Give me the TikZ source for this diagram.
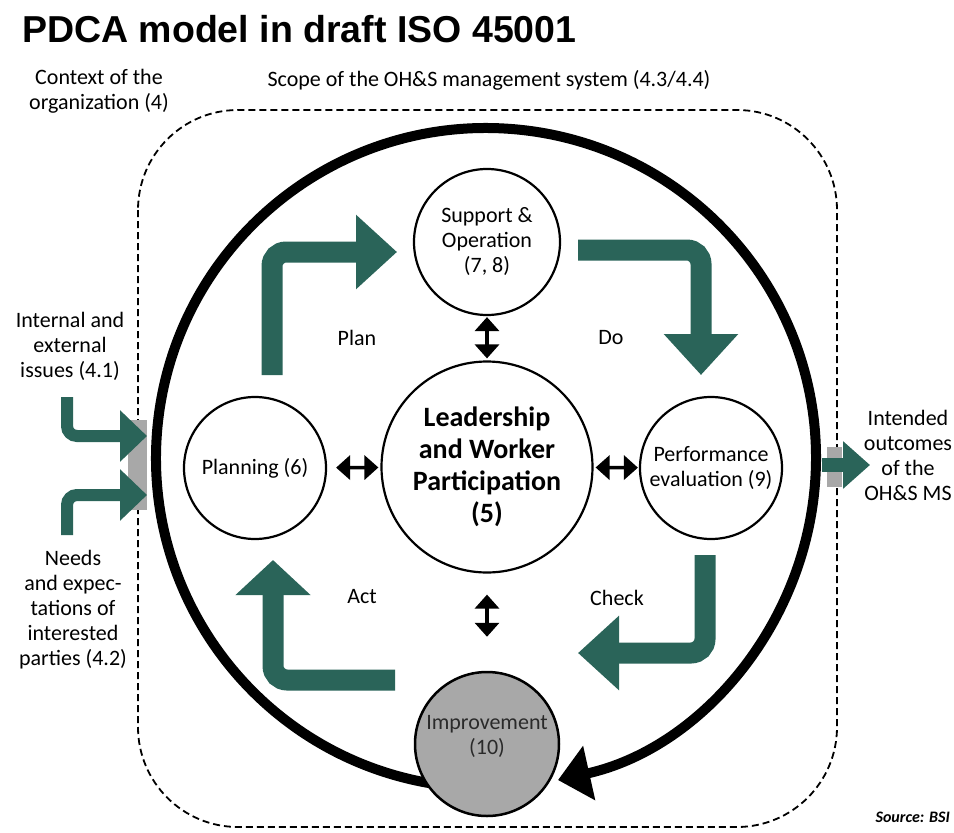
\documentclass[tikz,border=0pt]{standalone}
\usepackage{fontspec}
\setmainfont{Carlito}
\newfontfamily\titlefont{Liberation Sans}
\usetikzlibrary{arrows.meta}
\definecolor{tealc}{HTML}{2A6459}
\definecolor{grayc}{HTML}{A8A8A8}
\definecolor{imptext}{HTML}{2A2A2A}
\begin{document}
\begin{tikzpicture}[x=1pt,y=-1pt,
  lbl/.style={font=\fontsize{22}{25}\selectfont, align=center, inner sep=0pt},
  circ/.style={circle, draw=black, line width=2.2pt, fill=white, inner sep=0pt, align=center, font=\fontsize{22}{25}\selectfont},
  bigarrow/.style={draw=tealc, line width=21pt, rounded corners=14pt, -{Triangle[length=41pt,width=72pt]}},
  smallarrow/.style={draw=tealc, line width=12pt, rounded corners=10pt, -{Triangle[length=27pt,width=50pt]}},
  dbl/.style={line width=3.5pt, {Triangle[length=14pt,width=24pt]}-{Triangle[length=14pt,width=24pt]}},
  cyclearrow/.style={line width=10pt, -{Triangle[length=32pt,width=54pt]}}
]
\useasboundingbox (0,0) rectangle (954,833);

% title
\node[anchor=base west, inner sep=0pt, font=\titlefont\bfseries\fontsize{37.5}{40}\selectfont] (title) at (22,42) {PDCA model in draft ISO 45001};

% scope dashed boundary
\draw[line width=1.8pt, dash pattern=on 7pt off 4pt, rounded corners=100pt] (138,110) rectangle (837,827);

% grey interface bars
\fill[grayc] (128,420) rectangle (147,510);
\fill[grayc] (827,447) rectangle (842,487);

% input / output arrows
\coordinate (in1s) at (67,397);
\coordinate (in1e) at (147,436);
\coordinate (in2s) at (67,535);
\coordinate (in2e) at (147,495);
\draw[smallarrow] (in1s) |- (in1e);
\draw[smallarrow] (in2s) |- (in2e);
\coordinate (outs) at (822,465);
\coordinate (oute) at (870,465);
\draw[draw=tealc, line width=14pt, -{Triangle[length=27pt,width=46pt]}] (outs) -- (oute);

% PDCA teal arrows
\coordinate (plans) at (272,375);
\coordinate (plane) at (397,252);
\draw[bigarrow] (plans) |- (plane);
\coordinate (dos) at (578,250);
\coordinate (doe) at (701,375);
\draw[bigarrow] (dos) -| (doe);
\coordinate (chks) at (705,555);
\coordinate (chke) at (578,653);
\draw[bigarrow] (chks) |- (chke);
\coordinate (acts) at (395,680);
\coordinate (acte) at (273,560);
\draw[bigarrow, -{Triangle[length=35pt,width=73pt]}] (acts) -| (acte);

% big cycle arrow
\coordinate (cc) at (486,458);
\draw[cyclearrow] (cc) ++(95:330) arc[start angle=95, end angle=437.4, radius=330];

% circles
\node[circ, minimum size=146pt] (sup) at (487,242) {Support \&\\Operation\\(7, 8)};
\node[circ, minimum size=211pt, font=\bfseries\fontsize{28}{32}\selectfont] (lead) at (487,467) {Leadership\\and Worker\\Participation\\(5)};
\node[circ, minimum size=142pt] (plan) at (255,468) {Planning (6)};
\node[circ, minimum size=142pt] (perf) at (711,468) {Performance\\evaluation (9)};
\node[circ, minimum size=144pt, fill=grayc, line width=2.5pt] (imp) at (487,744) {};
\node[lbl, text=imptext] (impt) at (487,736) {Improvement\\(10)};

% double arrows
\draw[dbl, shorten <=1pt, shorten >=2pt] (sup) -- (lead);
\draw[dbl, shorten <=9pt, shorten >=2pt] (plan) -- (lead);
\draw[dbl, shorten <=2pt, shorten >=1pt] (lead) -- (perf);
\draw[dbl, shorten <=21pt, shorten >=34pt] (lead) -- (imp);

% labels
\node[lbl] (ctx) at (99,91) {Context of the\\organization (4)};
\node[lbl] (scope) at (489,80) {Scope of the OH\&S management system (4.3/4.4)};
\node[lbl] (iss) at (70,346) {Internal and\\external\\issues (4.1)};
\node[lbl] (needs) at (73,610) {Needs\\and expec-\\tations of\\interested\\parties (4.2)};
\node[lbl] (outc) at (908,455) {Intended\\outcomes\\of the\\OH\&S MS};
\node[lbl] (lplan) at (357,338) {Plan};
\node[lbl] (ldo) at (611,338) {Do};
\node[lbl] (lchk) at (617,598) {Check};
\node[lbl] (lact) at (362,597) {Act};
\node[lbl, anchor=east, font=\bfseries\itshape\fontsize{16}{18}\selectfont] (src) at (950,817) {Source: BSI};
\end{tikzpicture}
\end{document}
